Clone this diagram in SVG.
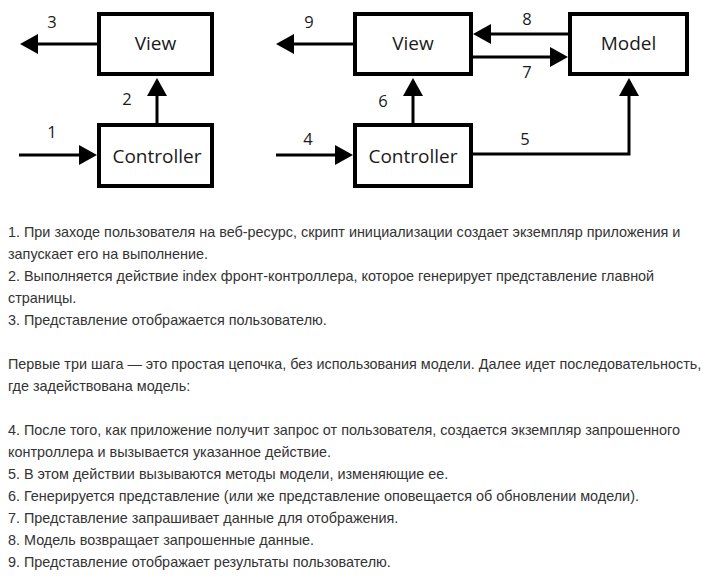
<svg xmlns="http://www.w3.org/2000/svg" width="705" height="577" viewBox="0 0 705 577">
<style>
.box{fill:#fff;stroke:#000;stroke-width:4}
.lbl{font-family:"Open Sans","DejaVu Sans",sans-serif;font-size:19px;fill:#1a1a1a;text-anchor:middle}
.num{font-family:"Open Sans","DejaVu Sans",sans-serif;font-size:16.5px;fill:#1a1a1a;text-anchor:middle}
.ln{fill:none;stroke:#000;stroke-width:3}
.txt{font-family:"Liberation Sans",Arial,sans-serif;font-size:14.4px;fill:#333}
</style>
<defs>
<marker id="ah" viewBox="0 -10 18 20" refX="0" refY="0" markerWidth="18" markerHeight="20" markerUnits="userSpaceOnUse" orient="auto" overflow="visible">
<path d="M0,-10 L18,0 L0,10 z" fill="#000"/>
</marker>
</defs>
<rect width="705" height="577" fill="#fff"/>
<g id="connectors">
<line class="ln" x1="97" y1="44" x2="38" y2="44" marker-end="url(#ah)"/>
<line class="ln" x1="157" y1="123" x2="157" y2="96" marker-end="url(#ah)"/>
<line class="ln" x1="19" y1="155" x2="79" y2="155" marker-end="url(#ah)"/>
<line class="ln" x1="353" y1="44" x2="294" y2="44" marker-end="url(#ah)"/>
<line class="ln" x1="568" y1="34" x2="491" y2="34" marker-end="url(#ah)"/>
<line class="ln" x1="473" y1="57" x2="550" y2="57" marker-end="url(#ah)"/>
<line class="ln" x1="413" y1="123" x2="413" y2="96" marker-end="url(#ah)"/>
<line class="ln" x1="276" y1="155" x2="335" y2="155" marker-end="url(#ah)"/>
<polyline class="ln" points="473,154 629,154 629,96" marker-end="url(#ah)"/>
<text class="num" x="52" y="28">3</text>
<text class="num" x="127" y="105">2</text>
<text class="num" x="52" y="138">1</text>
<text class="num" x="309" y="28">9</text>
<text class="num" x="527" y="25">8</text>
<text class="num" x="527" y="78">7</text>
<text class="num" x="383" y="107">6</text>
<text class="num" x="308" y="145">4</text>
<text class="num" x="525" y="145">5</text>
</g>
<g id="view1"><rect class="box" x="99" y="14" width="113" height="60"/><text class="lbl" x="155.5" y="50">View</text></g>
<g id="controller1"><rect class="box" x="99" y="125" width="113" height="61"/><text class="lbl" x="157" y="163">Controller</text></g>
<g id="view2"><rect class="box" x="355" y="14" width="116" height="60"/><text class="lbl" x="413" y="50">View</text></g>
<g id="model"><rect class="box" x="570" y="14" width="117" height="60"/><text class="lbl" x="628.5" y="50">Model</text></g>
<g id="controller2"><rect class="box" x="355" y="125" width="116" height="61"/><text class="lbl" x="413" y="163">Controller</text></g>
<g id="description" class="txt">
<text x="8" y="237">1. При заходе пользователя на веб-ресурс, скрипт инициализации создает экземпляр приложения и</text>
<text x="8" y="259">запускает его на выполнение.</text>
<text x="8" y="281">2. Выполняется действие index фронт-контроллера, которое генерирует представление главной</text>
<text x="8" y="303">страницы.</text>
<text x="8" y="325">3. Представление отображается пользователю.</text>
<text x="8" y="369">Первые три шага — это простая цепочка, без использования модели. Далее идет последовательность,</text>
<text x="8" y="391">где задействована модель:</text>
<text x="8" y="435">4. После того, как приложение получит запрос от пользователя, создается экземпляр запрошенного</text>
<text x="8" y="457">контроллера и вызывается указанное действие.</text>
<text x="8" y="479">5. В этом действии вызываются методы модели, изменяющие ее.</text>
<text x="8" y="501">6. Генерируется представление (или же представление оповещается об обновлении модели).</text>
<text x="8" y="523">7. Представление запрашивает данные для отображения.</text>
<text x="8" y="545">8. Модель возвращает запрошенные данные.</text>
<text x="8" y="567">9. Представление отображает результаты пользователю.</text>
</g>
</svg>
